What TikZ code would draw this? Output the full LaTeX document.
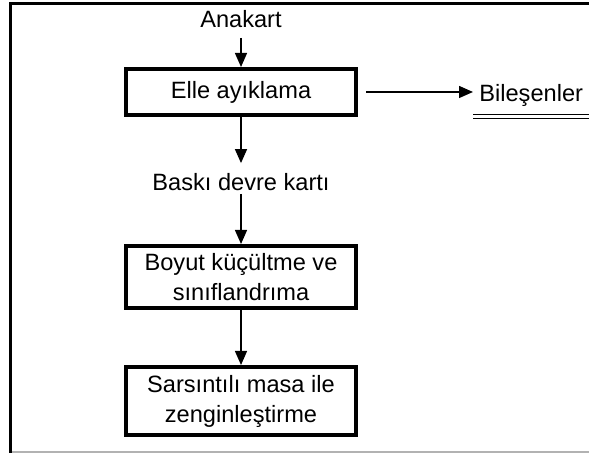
\documentclass[tikz,border=0pt]{standalone}
\usepackage{fontspec}
\setmainfont{Liberation Sans}
\usetikzlibrary{arrows.meta,positioning}

\tikzset{
  stepbox/.style={draw, line width=2pt, minimum width=115pt, align=center,
    font=\fontsize{11.8}{15}\selectfont, inner sep=0pt},
  labeltext/.style={font=\fontsize{11.8}{14}\selectfont, inner sep=0pt,
    text height=8.5pt, text depth=0pt},
  flowarrow/.style={-{Triangle[width=6pt,length=7pt]}, line width=0.7pt},
}

\begin{document}
\begin{tikzpicture}[x=0.5pt,y=-0.5pt]
  \useasboundingbox (0,0) rectangle (589,453);
  % frame
  \draw[line width=1.5pt] (10.5,453) -- (10.5,4) -- (589,4);
  \draw[gray!60, line width=0.6pt] (12,452) -- (589,452);

  \node[labeltext] (anakart) at (241,19) {Anakart};
  \node[stepbox, minimum height=23pt] (elle) at (241,92) {Elle ayıklama};
  \node[labeltext, anchor=west] (bilesen) at (479,93) {Bileşenler};
  \node[labeltext] (baski) at (241,182) {Baskı devre kartı};
  \node[stepbox, minimum height=31pt] (boyut) at (241,277) {Boyut küçültme ve\\sınıflandrıma};
  \node[stepbox, minimum height=34pt] (sarsinti) at (241,401) {Sarsıntılı masa ile\\zenginleştirme};

  \draw[flowarrow, shorten <=5pt] (anakart) -- (elle);
  \draw[flowarrow, shorten <=4pt, shorten >=3pt] (elle.east) -- (elle.east -| bilesen.west);
  \draw[flowarrow, shorten >=5pt] (elle) -- (baski);
  \draw[flowarrow, shorten <=1.5pt] (baski) -- (boyut);
  \draw[flowarrow] (boyut) -- (sarsinti);

  % underline
  \coordinate (ul) at (473,116.5);
  \draw[double, double distance=1.5pt, line width=0.7pt] (ul) -- (589,116.5);
\end{tikzpicture}
\end{document}
